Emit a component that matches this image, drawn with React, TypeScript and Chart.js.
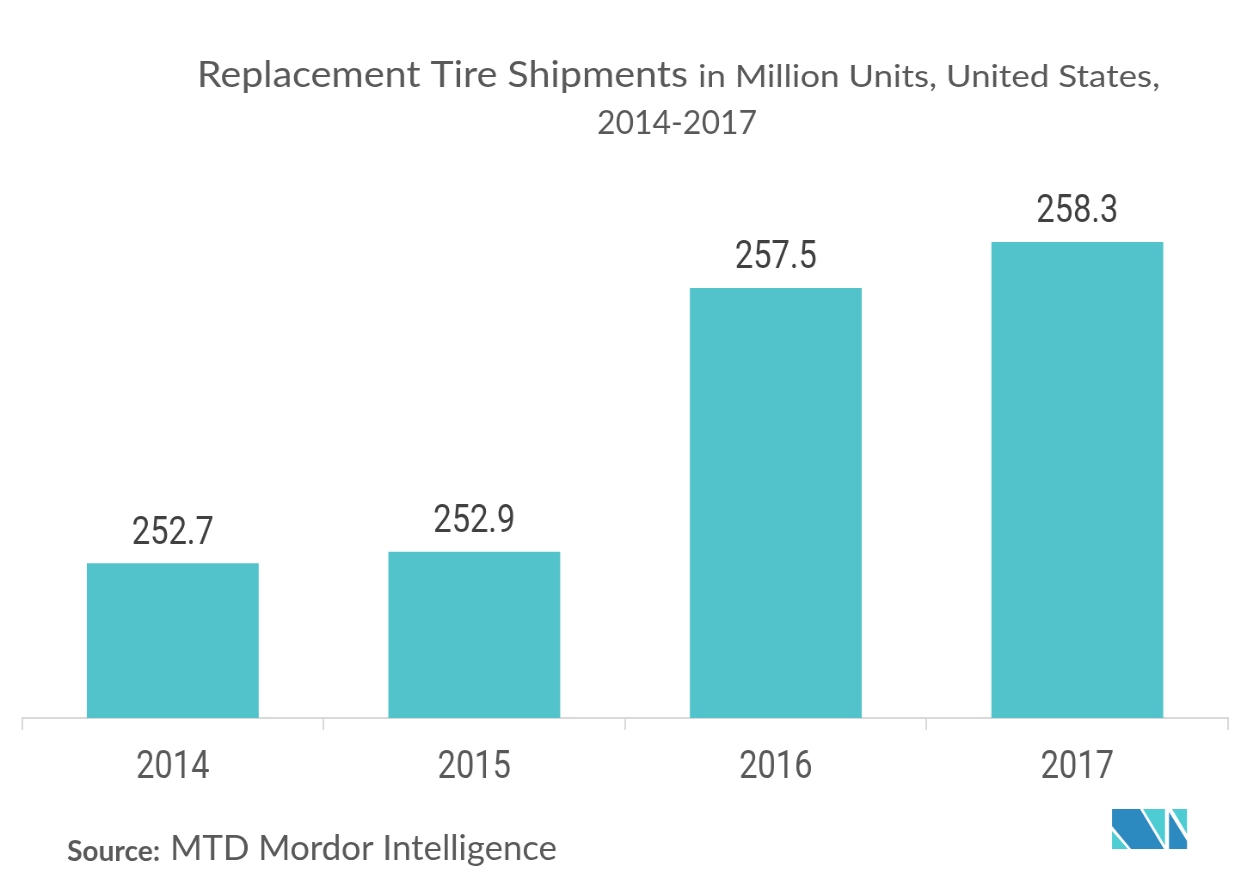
import React, { useEffect, useRef } from "react";
import { Chart, registerables } from "chart.js";

Chart.register(...registerables);

// ---- data ----
const categories = ["2014", "2015", "2016", "2017"];
const shipments = [252.7, 252.9, 257.5, 258.3];
const yMin = 250;
const yMax = 260;
const titleMain = "Replacement Tire Shipments";
const titleRest = "in Million Units, United States,";
const titleLine2 = "2014-2017";
const sourceLabel = "Source:";
const sourceName = "MTD Mordor Intelligence";

// ---- layout (real page px vs. logical canvas px) ----
const W = 1253;
const H = 895;
const LW = 1457;
const S = W / LW;

const BAR_COLOR = "#52C3CA";
const TEXT_COLOR = "#595959";
const LABEL_COLOR = "#404040";
const AXIS_COLOR = "#d9d9d9";
const LOGO_DARK = "#2D8AC0";
const LOGO_TEAL = "#4DCDD3";

function fitText(
  ctx: CanvasRenderingContext2D,
  text: string,
  font: string,
  left: number,
  baseline: number,
  width: number
) {
  ctx.save();
  ctx.font = font;
  ctx.fillStyle = TEXT_COLOR;
  ctx.textAlign = "left";
  ctx.textBaseline = "alphabetic";
  const w = ctx.measureText(text).width;
  ctx.translate(left / S, baseline);
  ctx.scale(width / S / w, 1);
  ctx.fillText(text, 0, 0);
  ctx.restore();
}

function poly(ctx: CanvasRenderingContext2D, pts: number[][], color: string) {
  ctx.beginPath();
  pts.forEach((p, i) => {
    const x = p[0] / S;
    if (i === 0) ctx.moveTo(x, p[1]);
    else ctx.lineTo(x, p[1]);
  });
  ctx.closePath();
  ctx.fillStyle = color;
  ctx.fill();
}

const decorPlugin = {
  id: "decor",
  afterDatasetsDraw(chart: any) {
    const ctx: CanvasRenderingContext2D = chart.ctx;
    const meta = chart.getDatasetMeta(0);
    ctx.save();
    ctx.font = "38px Roboto";
    ctx.fillStyle = LABEL_COLOR;
    ctx.textAlign = "center";
    ctx.textBaseline = "alphabetic";
    meta.data.forEach((bar: any, i: number) => {
      ctx.fillText(shipments[i].toFixed(1), bar.x, bar.y - 19.5);
    });
    ctx.restore();
  },
  afterDraw(chart: any) {
    const ctx: CanvasRenderingContext2D = chart.ctx;
    // title
    fitText(ctx, titleMain, "36px Lato", 197, 87, 491);
    fitText(ctx, titleRest, "30px Lato", 698, 87, 462);
    fitText(ctx, titleLine2, "32px Lato", 597, 134, 160);
    // source
    fitText(ctx, sourceLabel, "bold 29px Lato", 67, 861, 93);
    fitText(ctx, sourceName, "35px Lato", 170, 860, 387);
    // logo
    ctx.save();
    poly(ctx, [[1112, 831], [1128, 849], [1112, 849]], LOGO_TEAL);
    poly(ctx, [[1112, 809], [1140, 809], [1164, 849], [1131, 849], [1112, 826]], LOGO_DARK);
    poly(ctx, [[1143, 809], [1165, 809], [1165, 845.5]], LOGO_TEAL);
    poly(ctx, [[1172, 809], [1187, 809], [1187, 834]], LOGO_TEAL);
    poly(ctx, [[1169, 812], [1187, 841], [1187, 849], [1169, 849]], LOGO_DARK);
    ctx.restore();
  },
};

export default function App() {
  const canvasRef = useRef<HTMLCanvasElement | null>(null);

  useEffect(() => {
    if (!canvasRef.current) return;
    const chart = new Chart(canvasRef.current, {
      type: "bar",
      data: {
        labels: categories,
        datasets: [
          {
            data: shipments,
            backgroundColor: BAR_COLOR,
            borderWidth: 0,
            barPercentage: 0.57,
            categoryPercentage: 1,
          },
        ],
      },
      options: {
        animation: false,
        responsive: true,
        maintainAspectRatio: false,
        layout: { padding: { left: 25.6, right: 29, top: 144.5, bottom: 97 } },
        plugins: {
          legend: { display: false },
          title: { display: false },
          tooltip: { enabled: false },
        },
        scales: {
          x: {
            grid: {
              display: true,
              drawOnChartArea: false,
              drawTicks: true,
              tickLength: 12,
              color: AXIS_COLOR,
              lineWidth: 2,
              offset: true,
            },
            border: { display: true, color: AXIS_COLOR, width: 2 },
            ticks: {
              color: TEXT_COLOR,
              font: { family: "Roboto", size: 38 },
              padding: 16,
            },
            afterFit: (scale: any) => {
              scale.height = 80;
            },
          },
          y: { display: false, min: yMin, max: yMax },
        },
      },
      plugins: [decorPlugin],
    });
    return () => chart.destroy();
  }, []);

  return (
    <div
      style={{
        position: "fixed",
        left: 0,
        top: 0,
        width: W,
        height: H,
        overflow: "hidden",
        background: "#fff",
      }}
    >
      <div
        style={{
          width: LW,
          height: H,
          transform: `scaleX(${S})`,
          transformOrigin: "0 0",
        }}
      >
        <canvas ref={canvasRef} />
      </div>
    </div>
  );
}
